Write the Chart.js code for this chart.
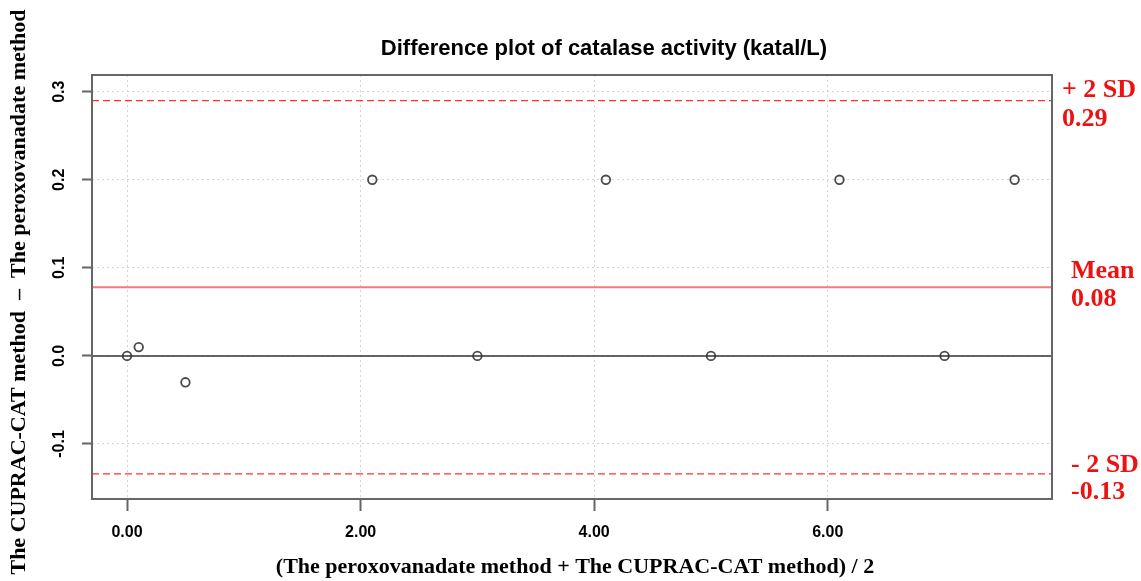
<!DOCTYPE html>
<html lang="en">
<head>
    <meta charset="UTF-8">
    <title>Difference plot of catalase activity</title>
    <script src="https://cdn.jsdelivr.net/npm/chart.js"></script>
    <style>
        html, body { margin: 0; padding: 0; background: #fff; }
        #wrap { width: 1141px; height: 581px; }
    </style>
</head>
<body>
    <div id="wrap">
        <canvas id="diffChart" width="1141" height="581"></canvas>
    </div>

    <script>
        // mean of both methods (x) and difference (y)
        const meanValues = [0.0, 0.1, 0.5, 2.1, 3.0, 4.1, 5.0, 6.1, 7.0, 7.6];
        const diffValues = [0.0, 0.01, -0.03, 0.2, 0.0, 0.2, 0.0, 0.2, 0.0, 0.2];

        // limits of agreement
        const limitNames = ['+ 2 SD', 'Mean', '- 2 SD'];
        const limitValues = [0.29, 0.078, -0.134];
        const limitLabels = ['0.29', '0.08', '-0.13'];

        const xRange = [-0.3, 7.92];
        const yRange = [-0.1625, 0.319];
        const yTickLabels = ['-0.1', '0.0', '0.1', '0.2', '0.3'];

        const points = meanValues.map((x, i) => ({ x: x, y: diffValues[i] }));
        const hline = v => [{ x: xRange[0], y: v }, { x: xRange[1], y: v }];

        const ctx = document.getElementById('diffChart').getContext('2d');

        const textPlugin = {
            id: 'textPlugin',
            afterDraw(chart) {
                const c = chart.ctx;
                const area = chart.chartArea;
                const ys = chart.scales.y;
                c.save();

                // box around the plot
                c.strokeStyle = '#666';
                c.lineWidth = 2;
                c.strokeRect(area.left, area.top, area.right - area.left, area.bottom - area.top);

                // title
                c.fillStyle = '#000';
                c.font = 'bold 22px "Liberation Sans", Arial, sans-serif';
                c.textAlign = 'center';
                c.textBaseline = 'middle';
                c.fillText('Difference plot of catalase activity (katal/L)', 604, 49);

                // x title
                c.font = 'bold 22px "Liberation Serif", "Times New Roman", serif';
                c.fillText('(The peroxovanadate method + The CUPRAC-CAT method) / 2', 575, 567);

                // y tick labels, rotated like R does
                c.font = 'bold 16px "Liberation Sans", Arial, sans-serif';
                yTickLabels.forEach(lbl => {
                    const py = ys.getPixelForValue(parseFloat(lbl));
                    c.save();
                    c.translate(60, py);
                    c.rotate(-Math.PI / 2);
                    c.fillText(lbl, 0, 0);
                    c.restore();
                });

                // y title
                c.save();
                c.translate(19, (area.top + area.bottom) / 2 + 5);
                c.rotate(-Math.PI / 2);
                c.font = 'bold 22px "Liberation Serif", "Times New Roman", serif';
                c.fillText('The CUPRAC-CAT method  \u2013  The peroxovanadate method', 0, 0);
                c.restore();

                // limit annotations on the right
                c.fillStyle = '#ee1111';
                c.font = 'bold 26px "Liberation Serif", "Times New Roman", serif';
                c.textAlign = 'left';
                c.textBaseline = 'alphabetic';
                const nameY = [97, 278, 472];
                const valY = [126, 306, 499];
                const textX = [1062, 1071, 1071];
                limitNames.forEach((n, i) => {
                    c.fillText(n, textX[i], nameY[i]);
                    c.fillText(limitLabels[i], textX[i], valY[i]);
                });
                c.restore();
            }
        };

        const gridStyle = (tickLen) => ({
            color: '#d4d4d4',
            lineWidth: 1,
            tickColor: '#666',
            tickWidth: 2,
            tickLength: tickLen,
            tickBorderDash: [],
        });

        const chartConfig = {
            type: 'scatter',
            data: {
                datasets: [
                    {
                        type: 'line',
                        data: hline(0),
                        borderColor: '#333',
                        borderWidth: 1.5,
                        pointRadius: 0,
                    },
                    {
                        type: 'line',
                        data: hline(limitValues[0]),
                        borderColor: '#ff3030',
                        borderWidth: 1.3,
                        borderDash: [7, 4],
                        pointRadius: 0,
                    },
                    {
                        type: 'line',
                        data: hline(limitValues[1]),
                        borderColor: '#f57a7a',
                        borderWidth: 2,
                        pointRadius: 0,
                    },
                    {
                        type: 'line',
                        data: hline(limitValues[2]),
                        borderColor: '#ff3030',
                        borderWidth: 1.3,
                        borderDash: [7, 4],
                        pointRadius: 0,
                    },
                    {
                        data: points,
                        pointStyle: 'circle',
                        pointRadius: 4.3,
                        backgroundColor: 'rgba(0,0,0,0)',
                        borderColor: '#4a4a4a',
                        borderWidth: 1.8,
                    },
                ],
            },
            options: {
                responsive: false,
                animation: false,
                layout: {
                    padding: { top: 75, right: 89, left: 0, bottom: 0 },
                },
                plugins: {
                    legend: { display: false },
                    tooltip: { enabled: false },
                },
                scales: {
                    x: {
                        type: 'linear',
                        min: xRange[0],
                        max: xRange[1],
                        afterFit(scale) { scale.height = 82; },
                        border: { display: false, dash: [2, 3] },
                        grid: gridStyle(12),
                        ticks: {
                            stepSize: 2,
                            includeBounds: false,
                            padding: 12,
                            color: '#000',
                            font: { family: '"Liberation Sans", Arial, sans-serif', size: 16, weight: 'bold' },
                            callback: v => Number(v).toFixed(2),
                        },
                    },
                    y: {
                        type: 'linear',
                        min: yRange[0],
                        max: yRange[1],
                        afterFit(scale) { scale.width = 92; },
                        border: { display: false, dash: [2, 3] },
                        grid: gridStyle(10),
                        ticks: {
                            stepSize: 0.1,
                            includeBounds: false,
                            display: false,
                        },
                    },
                },
            },
            plugins: [textPlugin],
        };

        const diffChart = new Chart(ctx, chartConfig);
    </script>
</body>
</html>
